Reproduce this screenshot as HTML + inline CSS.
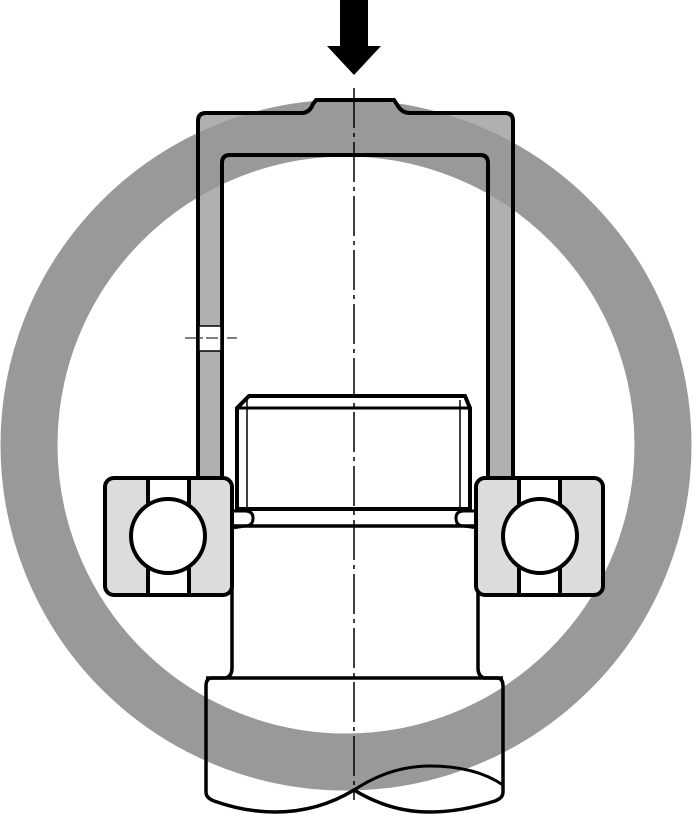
<!DOCTYPE html>
<html><head><style>html,body{margin:0;padding:0;background:#fff}svg{display:block}</style></head>
<body>
<svg width="693" height="814" viewBox="0 0 693 814" xmlns="http://www.w3.org/2000/svg">
<!-- frame fill -->
<path d="M206,113 L303,113 Q310,112 313,104 L316,100 L394,100 L398,106 Q402,113 410,113 L505,113 Q513,113 513,121 L513,478 L488,478 L488,163 Q488,155 480,155 L230,155 Q222,155 222,163 L222,478 L198,478 L198,121 Q198,113 206,113 Z" fill="#b0b0b0"/>
<!-- ring -->
<circle cx="346" cy="445" r="317" fill="none" stroke="#999" stroke-width="57"/>
<!-- frame outline -->
<path d="M206,113 L303,113 Q310,112 313,104 L316,100 L394,100 L398,106 Q402,113 410,113 L505,113 Q513,113 513,121 L513,478 M488,478 L488,163 Q488,155 480,155 L230,155 Q222,155 222,163 L222,478 M198,478 L198,121 Q198,113 206,113" fill="none" stroke="#000" stroke-width="4"/>
<!-- small hole -->
<rect x="199" y="326" width="22" height="25" fill="#fff" stroke="#000" stroke-width="1.5"/>
<line x1="185" y1="338" x2="237" y2="338" stroke="#000" stroke-width="1" stroke-dasharray="12,3,3,3"/>
<!-- nut -->
<path d="M237,408 L249,396 L465,396 L470,408 L470,509 L237,509 Z" fill="#fff" stroke="#000" stroke-width="4"/>
<line x1="237" y1="408" x2="470" y2="408" stroke="#000" stroke-width="3"/>
<line x1="247" y1="400" x2="247" y2="509" stroke="#000" stroke-width="1.5"/>
<line x1="460" y1="400" x2="460" y2="509" stroke="#000" stroke-width="1.5"/>
<!-- groove -->
<path d="M233,511 L245,511 Q253,511 253,518 Q253,526 245,526 L232,528" fill="none" stroke="#000" stroke-width="3"/>
<path d="M476,511 L464,511 Q456,511 456,518 Q456,526 464,526 L478,528" fill="none" stroke="#000" stroke-width="3"/>
<!-- shaft -->
<path d="M232,526 L478,526 L478,668 Q478,676 484,678 L497,678 Q503,678 503,686 L503,792 Q503,798 495,801 Q460,812 430,812 Q390,812 354,790 Q318,812 275,812 Q245,812 214,801 Q206,798 206,792 L206,686 Q206,678 212,678 L226,678 Q232,676 232,668 Z" fill="none" stroke="#000" stroke-width="3.5"/>
<line x1="206" y1="678" x2="503" y2="678" stroke="#000" stroke-width="3.5"/>
<path d="M354,790 Q390,766 430,766 Q475,766 503,785" fill="none" stroke="#000" stroke-width="3"/>
<!-- bearings -->
<g id="b">
<rect x="105" y="478" width="127" height="117" rx="9" fill="#dcdcdc" stroke="#000" stroke-width="4"/>
<rect x="148" y="480" width="41" height="113" fill="#fff"/>
<line x1="148" y1="480" x2="148" y2="595" stroke="#000" stroke-width="4"/>
<line x1="189" y1="480" x2="189" y2="595" stroke="#000" stroke-width="4"/>
<circle cx="168" cy="536" r="37" fill="#fff" stroke="#000" stroke-width="4"/>
</g>
<use href="#b" transform="translate(708,0) scale(-1,1)"/>
<!-- centerline -->
<line x1="354" y1="88" x2="354" y2="800" stroke="#000" stroke-width="1.5" stroke-dasharray="40,5,4,5"/>
<!-- arrow -->
<path d="M340,0 L368,0 L368,46 L381,46 L354,75 L327,46 L340,46 Z" fill="#000"/>
</svg>
</body></html>
